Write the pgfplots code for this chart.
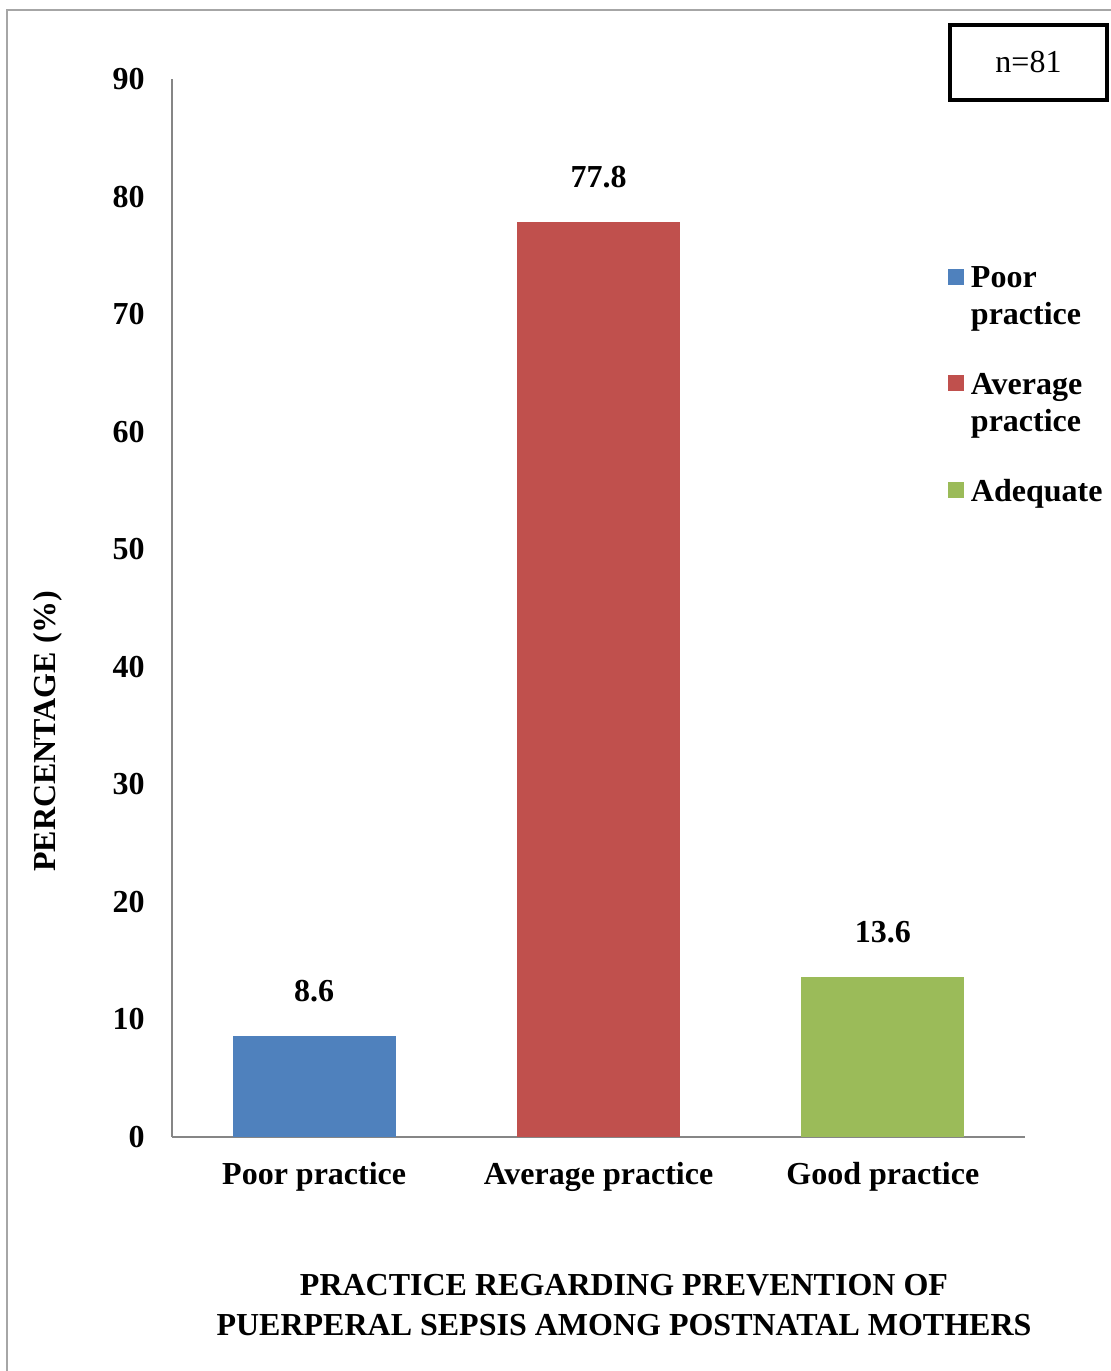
\documentclass[border=0pt]{standalone}
\usepackage{fontspec}
\setmainfont{Liberation Serif}
\usepackage{pgfplots}
\pgfplotsset{compat=1.18}
\definecolor{barblue}{HTML}{4F81BD}
\definecolor{barred}{HTML}{C0504D}
\definecolor{bargreen}{HTML}{9BBB59}
\definecolor{axisgray}{HTML}{868686}
\definecolor{framegray}{HTML}{A6A6A6}
\newcommand{\chartfont}{\fontsize{16}{18.5}\selectfont\bfseries}
% square marker; the invisible path gives each legend row its height
\pgfplotsset{sq legend/.style={legend image code/.code={%
    \path[draw=none, fill=none] (0pt,-42.5pt) rectangle (8pt,9.5pt);
    \fill[##1] (0pt,1.5pt) rectangle (8pt,9.5pt);}}}

\begin{document}
\begin{tikzpicture}[x=1pt,y=1pt]
\path[use as bounding box] (0,0) rectangle (555,685.5);
\draw[framegray, line width=0.9pt] (3.5,-5) -- (3.5,680.5) -- (560,680.5);
\begin{axis}[
    at={(86pt,117pt)}, anchor=south west,
    scale only axis, width=426.5pt, height=529pt,
    ybar, bar width=81.5pt,
    xmin=-0.5, xmax=2.5, ymin=0, ymax=90,
    axis lines=left, axis line style={axisgray, line width=1pt, -},
    xtick={0,1,2},
    xticklabels={Poor practice, Average practice, Good practice},
    ytick={0,10,...,90},
    major tick length=0pt,
    /pgf/number format/assume math mode=true,
    yticklabel style={font=\chartfont, anchor=east, inner sep=0pt, xshift=-13.5pt},
    xticklabel style={font=\chartfont, anchor=north, inner sep=0pt, yshift=-12.6pt, text height=11pt, text depth=3.5pt},
    nodes near coords,
    nodes near coords style={font=\chartfont, anchor=south, inner sep=0pt, yshift=17pt},
    ylabel={PERCENTAGE (\%)},
    ylabel style={font=\chartfont, at={(axis description cs:-0.1454,0.3837)}, anchor=center, inner sep=0pt},
    xlabel={PRACTICE REGARDING PREVENTION OF\\PUERPERAL SEPSIS AMONG POSTNATAL MOTHERS},
    xlabel style={font=\fontsize{16}{20}\selectfont\bfseries, align=center, at={(axis description cs:0.5299,-0.1295)}, anchor=north, inner sep=0pt},
    legend style={draw=none, fill=none, at={(axis description cs:0.9097,0.8223)}, anchor=north west,
        inner sep=0pt, outer sep=0pt, column sep=3.5pt, font=\chartfont,
        cells={anchor=base west}, nodes={inner sep=0pt}},
]
\addplot[fill=barblue, draw=none, bar shift=0pt, sq legend] coordinates {(0,8.6)};
\addlegendentry{\parbox[t]{70pt}{Poor\\practice}}
\addplot[fill=barred, draw=none, bar shift=0pt, sq legend] coordinates {(1,77.8)};
\addlegendentry{\parbox[t]{70pt}{Average\\practice}}
\addplot[fill=bargreen, draw=none, bar shift=0pt, sq legend] coordinates {(2,13.6)};
\addlegendentry{\parbox[t]{70pt}{Adequate}}
\end{axis}
\node[draw=black, line width=2pt, minimum width=78.5pt, minimum height=37.5pt, inner sep=0pt,
    font=\fontsize{16}{19}\selectfont] at (514.25,654.25) {n=81};
\end{tikzpicture}
\end{document}
